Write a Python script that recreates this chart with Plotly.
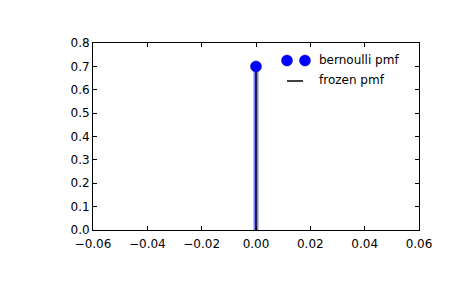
import plotly.graph_objects as go

# data
x_vals = [0.0]
pmf_vals = [0.7]
frozen_vals = [0.7]
legend_labels = ["bernoulli pmf", "frozen pmf"]
x_ticks = [-0.06, -0.04, -0.02, 0.0, 0.02, 0.04, 0.06]
y_ticks = [0.0, 0.1, 0.2, 0.3, 0.4, 0.5, 0.6, 0.7, 0.8]

fig = go.Figure()

# wide translucent blue vlines
for xv, pv in zip(x_vals, pmf_vals):
    fig.add_trace(go.Scatter(x=[xv, xv], y=[0, pv], mode="lines",
                             line=dict(color="rgba(0,0,255,0.5)", width=5),
                             showlegend=False, hoverinfo="skip"))
# frozen pmf black vlines
for xv, fv in zip(x_vals, frozen_vals):
    fig.add_trace(go.Scatter(x=[xv, xv], y=[0, fv], mode="lines",
                             line=dict(color="black", width=1.5),
                             showlegend=False, hoverinfo="skip"))
# markers
fig.add_trace(go.Scatter(x=x_vals, y=pmf_vals, mode="markers",
                         marker=dict(color="blue", size=11,
                                     line=dict(color="#0000aa", width=0.5)),
                         showlegend=False, cliponaxis=False))

# manual legend (classic matplotlib style, two markers)
W, H = 326.0, 187.0
def px(xp):
    return (xp - 93) / W
def py(yp):
    return 1 - (yp - 43) / H

shapes = []
for cx in (287, 305):
    shapes.append(dict(type="circle", xref="paper", yref="paper",
                       xsizemode="pixel", ysizemode="pixel",
                       xanchor=px(cx), yanchor=py(60.5),
                       x0=-5.5, x1=5.5, y0=-5.5, y1=5.5,
                       fillcolor="blue", line=dict(color="#0000aa", width=0.5)))
shapes.append(dict(type="line", xref="paper", yref="paper",
                   x0=px(287), x1=px(303), y0=py(81), y1=py(81),
                   line=dict(color="black", width=1.5)))

annotations = [
    dict(text=legend_labels[0], xref="paper", yref="paper", x=px(317), y=py(60),
         xanchor="left", yanchor="middle", showarrow=False,
         font=dict(size=12, color="black")),
    dict(text=legend_labels[1], xref="paper", yref="paper", x=px(317), y=py(80),
         xanchor="left", yanchor="middle", showarrow=False,
         font=dict(size=12, color="black")),
]

axis_common = dict(showline=True, linecolor="black", linewidth=1, mirror="ticks",
                   ticks="inside", ticklen=4, tickcolor="black", tickwidth=1,
                   showgrid=False, zeroline=False,
                   tickfont=dict(size=12, color="black"))

fig.update_layout(
    width=465, height=288,
    margin=dict(l=93, r=46, t=43, b=58),
    paper_bgcolor="white", plot_bgcolor="white",
    font=dict(family="DejaVu Sans", size=12, color="black"),
    xaxis=dict(range=[-0.06, 0.06], tickvals=x_ticks, tickformat=".2f",
               ticklabelstandoff=3, **axis_common),
    yaxis=dict(range=[0, 0.8], tickvals=y_ticks, tickformat=".1f", **axis_common),
    shapes=shapes, annotations=annotations,
    showlegend=False,
)

fig.write_html("out.html")
